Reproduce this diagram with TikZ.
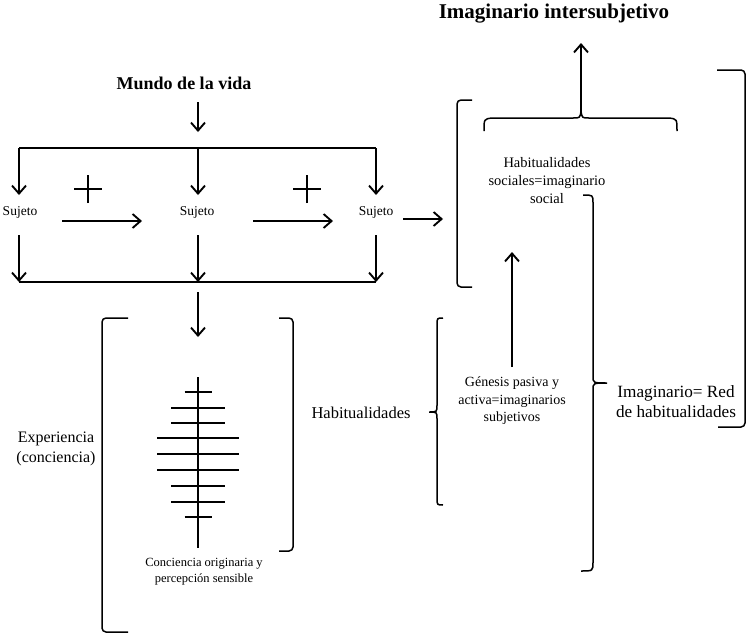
\documentclass[tikz,border=0pt]{standalone}
\usepackage{fontspec}
\setmainfont{Liberation Serif}
\usetikzlibrary{arrows.meta}
\begin{document}
\begin{tikzpicture}[x=1pt,y=-1pt,
  ln/.style={line width=1.6pt},
  arr/.style={ln,-{Straight Barb[length=8pt,width=14pt,line width=1.9pt]}},
  brk/.style={line width=1.5pt,rounded corners=4pt},
  bar/.style={line width=1.4pt},
  txt/.style={inner sep=0pt,align=center}]
\useasboundingbox (0,0) rectangle (750,640);

% texts
\node[txt,font=\fontsize{21}{24}\selectfont\bfseries] (title) at (554,14) {Imaginario intersubjetivo};
\node[txt,font=\fontsize{18}{21}\selectfont\bfseries] (mundo) at (184,83) {Mundo de la vida};
\node[txt,font=\fontsize{13.5}{16}\selectfont] (s1) at (20,212) {Sujeto};
\node[txt,font=\fontsize{13.5}{16}\selectfont] (s2) at (197,212) {Sujeto};
\node[txt,font=\fontsize{13.5}{16}\selectfont] (s3) at (376,212) {Sujeto};
\node[txt,font=\fontsize{14.5}{18}\selectfont] (hsoc) at (547,181) {Habitualidades\\sociales=imaginario\\social};
\node[txt,font=\fontsize{14}{17.5}\selectfont] (gen) at (512,401) {Génesis pasiva y\\activa=imaginarios\\subjetivos};
\node[txt,font=\fontsize{17.2}{20}\selectfont] (red) at (676,402) {Imaginario= Red\\de habitualidades};
\node[txt,font=\fontsize{16.5}{20}\selectfont] (hab) at (361,413) {Habitualidades};
\node[txt,font=\fontsize{16}{20}\selectfont] (exp) at (56,449) {Experiencia\\(conciencia)};
\node[txt,font=\fontsize{12.5}{16}\selectfont] (conc) at (204,572) {Conciencia originaria y\\percepción sensible};

% coordinates
\coordinate (a0) at (198,102); \coordinate (a1) at (198,132);
\coordinate (tl) at (19,148); \coordinate (tm) at (198,148); \coordinate (tr) at (376,148);
\coordinate (dl) at (19,195); \coordinate (dm) at (198,195); \coordinate (dr) at (376,195);
\coordinate (h1a) at (62,221); \coordinate (h1b) at (142,221);
\coordinate (h2a) at (253,221); \coordinate (h2b) at (333,221);
\coordinate (h3a) at (403,219); \coordinate (h3b) at (443,219);
\coordinate (ul) at (19,235); \coordinate (um) at (198,235); \coordinate (ur) at (376,235);
\coordinate (bl) at (19,282); \coordinate (bm) at (198,282); \coordinate (br) at (376,282);
\coordinate (e0) at (198,292); \coordinate (e1) at (198,337);
\coordinate (p1) at (88,189); \coordinate (p2) at (307,189);
\coordinate (cusp) at (581,111); \coordinate (ttip) at (581,43);
\coordinate (g0) at (512,367); \coordinate (g1) at (512,252);

% top part
\draw[arr] (a0) -- (a1);
\draw[ln] (tl) -- (tr);
\draw[arr] (tl) -- (dl);
\draw[arr] (tm) -- (dm);
\draw[arr] (tr) -- (dr);
\draw[arr] (h1a) -- (h1b);
\draw[arr] (h2a) -- (h2b);
\draw[arr] (h3a) -- (h3b);
\foreach \p in {p1,p2}{
  \draw[line width=1.2pt] ([xshift=-14pt]\p) -- ([xshift=14pt]\p);
  \draw[line width=1.2pt] ([yshift=-14pt]\p) -- ([yshift=14pt]\p);
}
\draw[arr] (ul) -- (bl);
\draw[arr] (um) -- (bm);
\draw[arr] (ur) -- (br);
\draw[ln] (bl) -- (br);
\draw[arr] (e0) -- (e1);

% experiencia brackets
\draw[brk] (128,318) -- (102,318) -- (102,632) -- (128,632);
\draw[brk] (279,318) -- (293,318) -- (293,551) -- (279,551);

% tree
\draw[bar] (198,377) -- (198,548);
\foreach \yy/\w in {392/13.5, 408/27, 423/27, 438/41, 454/41, 470/41, 486/27, 502/27, 517/13.5}{
  \draw[bar] (198-\w,\yy) -- (198+\w,\yy);
}

% right part
\draw[brk] (472,100) -- (457,100) -- (457,287) -- (472,287);
\draw[line width=1.5pt] (484,131) .. controls (484,119) .. (492,118) -- (573,118)
  .. controls (580,118) .. (cusp) .. controls (582,118) .. (589,118) -- (669,118)
  .. controls (677,119) .. (677,131);
\draw[arr] (cusp) -- (ttip);
\draw[line width=1.5pt] (583,195) .. controls (593,195) .. (593,203) -- (593,376)
  .. controls (593,383) .. (607,383) .. controls (593,383) .. (593,390) -- (593,562)
  .. controls (593,571) .. (581,571);
\draw[brk] (717,70) -- (745,70) -- (745,427) -- (718,427);
\draw[line width=1.5pt] (443,318) .. controls (437,318) .. (437,325) -- (437,405)
  .. controls (437,412) .. (429,412) .. controls (437,412) .. (437,419) -- (437,498)
  .. controls (437,505) .. (443,505);
\draw[arr] (g0) -- (g1);
\end{tikzpicture}
\end{document}
